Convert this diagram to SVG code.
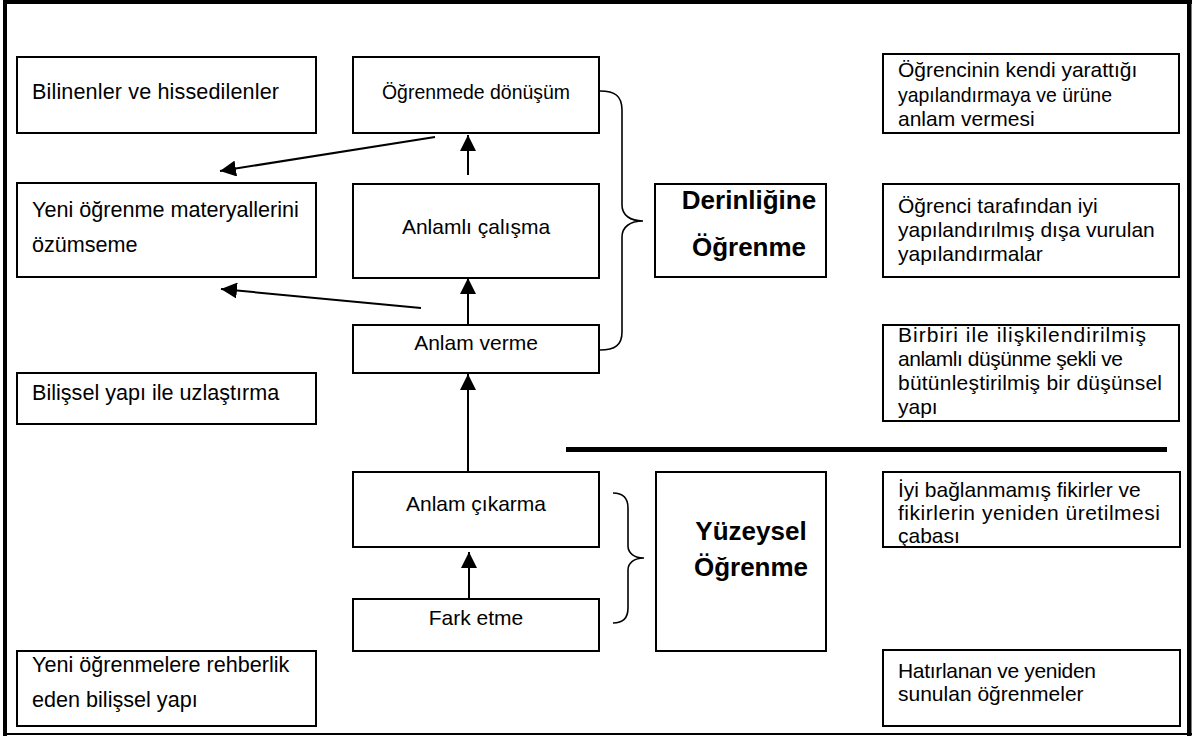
<svg xmlns="http://www.w3.org/2000/svg" width="1195" height="736" viewBox="0 0 1195 736">
<defs>
<marker id="ah" viewBox="0 0 16 16" refX="16" refY="8" markerWidth="16" markerHeight="16" markerUnits="userSpaceOnUse" orient="auto">
<path d="M0,0 L16,8 L0,16 Z" fill="#000"/>
</marker>
</defs>
<style>
.box{fill:#fff;stroke:#000;stroke-width:2}
.t{font-family:"Liberation Sans",Arial,sans-serif;font-size:21px;fill:#000}
.l{font-size:21.6px}
.c{text-anchor:middle}
.b{font-family:"Liberation Sans",Arial,sans-serif;font-size:26px;font-weight:bold;fill:#000;text-anchor:middle}
.ln{stroke:#000;stroke-width:2;fill:none}
.br{stroke:#000;stroke-width:1.6;fill:none}
</style>
<rect x="0" y="0" width="1195" height="736" fill="#fff"/>
<g id="frame">
<rect x="3" y="0" width="1189" height="4" fill="#000"/>
<rect x="3" y="0" width="4" height="736" fill="#000"/>
<rect x="1187" y="0" width="4.5" height="736" fill="#000"/>
<rect x="3" y="733" width="1189" height="2" fill="#000"/>
</g>
<g id="connectors">
<line class="ln" x1="468" y1="175" x2="468" y2="135" marker-end="url(#ah)"/>
<line class="ln" x1="468" y1="325" x2="468" y2="278" marker-end="url(#ah)"/>
<line class="ln" x1="468" y1="472" x2="468" y2="374" marker-end="url(#ah)"/>
<line class="ln" x1="469" y1="598" x2="469" y2="552" marker-end="url(#ah)"/>
<line class="ln" x1="435" y1="137" x2="220" y2="171" marker-end="url(#ah)"/>
<line class="ln" x1="421" y1="308" x2="221" y2="289" marker-end="url(#ah)"/>
<line x1="566" y1="449.5" x2="1167" y2="449.5" stroke="#000" stroke-width="5"/>
<path class="br" d="M600,91 C615,91 622,96 622,110 L622,205 C622,215 630,221 643,221 C630,221 622,227 622,237 L622,332 C622,345 615,350 600,350"/>
<path class="br" d="M613,493 C623,493 628,498 628,508 L628,546 C628,553 634,558 644,558 C634,558 628,563 628,570 L628,608 C628,618 623,623 613,623"/>
</g>
<g id="n-bilinenler">
<rect class="box" x="17" y="57" width="299" height="76"/>
<text class="t l" x="32" y="98.5" textLength="247" lengthAdjust="spacing">Bilinenler ve hissedilenler</text>
</g>
<g id="n-yeni-ogrenme">
<rect class="box" x="17" y="183" width="299" height="94"/>
<text class="t l" x="32" y="217">Yeni öğrenme materyallerini</text>
<text class="t l" x="32" y="252">özümseme</text>
</g>
<g id="n-bilissel">
<rect class="box" x="17" y="373" width="299" height="51"/>
<text class="t l" x="32" y="400">Bilişsel yapı ile uzlaştırma</text>
</g>
<g id="n-rehberlik">
<rect class="box" x="17" y="651" width="299" height="75"/>
<text class="t l" x="32" y="672">Yeni öğrenmelere rehberlik</text>
<text class="t l" x="32" y="707">eden bilişsel yapı</text>
</g>
<g id="n-donusum">
<rect class="box" x="353" y="57" width="246" height="76"/>
<text class="t c" x="476" y="98.5" textLength="188" lengthAdjust="spacingAndGlyphs">Öğrenmede dönüşüm</text>
</g>
<g id="n-calisma">
<rect class="box" x="353" y="184" width="246" height="94"/>
<text class="t c" x="476" y="234">Anlamlı çalışma</text>
</g>
<g id="n-verme">
<rect class="box" x="353" y="325" width="246" height="48"/>
<text class="t c" x="476" y="350">Anlam verme</text>
</g>
<g id="n-cikarma">
<rect class="box" x="353" y="472" width="246" height="75"/>
<text class="t c" x="476" y="511">Anlam çıkarma</text>
</g>
<g id="n-fark">
<rect class="box" x="353" y="599" width="246" height="52"/>
<text class="t c" x="476" y="625">Fark etme</text>
</g>
<g id="n-derinligine">
<rect class="box" x="655" y="184" width="171" height="93"/>
<text class="b" x="749" y="209">Derinliğine</text>
<text class="b" x="749" y="256">Öğrenme</text>
</g>
<g id="n-yuzeysel">
<rect class="box" x="656" y="472" width="170" height="179"/>
<text class="b" x="751" y="540">Yüzeysel</text>
<text class="b" x="751" y="576">Öğrenme</text>
</g>
<g id="n-r1">
<rect class="box" x="883" y="54" width="296" height="79"/>
<text class="t" x="898" y="77">Öğrencinin kendi yarattığı</text>
<text class="t" x="898" y="101.5" textLength="214" lengthAdjust="spacingAndGlyphs">yapılandırmaya ve ürüne</text>
<text class="t" x="898" y="126">anlam vermesi</text>
</g>
<g id="n-r2">
<rect class="box" x="883" y="184" width="296" height="93"/>
<text class="t" x="898" y="213">Öğrenci tarafından iyi</text>
<text class="t" x="898" y="237">yapılandırılmış dışa vurulan</text>
<text class="t" x="898" y="261">yapılandırmalar</text>
</g>
<g id="n-r3">
<rect class="box" x="883" y="325" width="296" height="96"/>
<text class="t" x="898" y="342" textLength="248" lengthAdjust="spacing">Birbiri ile ilişkilendirilmiş</text>
<text class="t" x="898" y="366" textLength="225" lengthAdjust="spacing">anlamlı düşünme şekli ve</text>
<text class="t" x="898" y="390" textLength="264" lengthAdjust="spacing">bütünleştirilmiş bir düşünsel</text>
<text class="t" x="898" y="413.5">yapı</text>
</g>
<g id="n-r4">
<rect class="box" x="883" y="472" width="297" height="75"/>
<text class="t" x="898" y="497">İyi bağlanmamış fikirler ve</text>
<text class="t" x="898" y="520" textLength="262" lengthAdjust="spacing">fikirlerin yeniden üretilmesi</text>
<text class="t" x="898" y="543">çabası</text>
</g>
<g id="n-r5">
<rect class="box" x="883" y="650" width="297" height="76"/>
<text class="t" x="898" y="678" textLength="198" lengthAdjust="spacing">Hatırlanan ve yeniden</text>
<text class="t" x="898" y="701">sunulan öğrenmeler</text>
</g>
</svg>
